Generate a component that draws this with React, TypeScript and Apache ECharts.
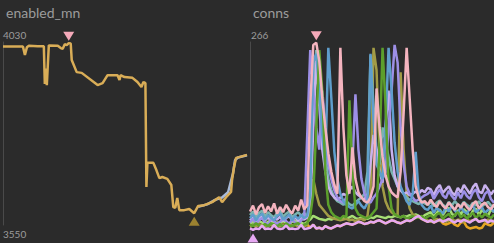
import React, { useEffect, useRef } from 'react';
import * as echarts from 'echarts';

const leftTitle = 'enabled_mn';
const rightTitle = 'conns';
const leftTicks = [3550, 4030];
const rightTicks = [0, 266];

// [time, value]
const enabledMn: [number, number][] = [
  [0, 4018], [10, 4018], [20, 4018], [22, 3996], [24, 4016], [26, 4020], [35, 4019], [41, 4019],
  [42, 3920], [43, 3960], [44, 3917], [46, 4021], [55, 4020], [58, 4014], [60, 4012], [62, 4024],
  [64, 4022], [66, 4027], [68, 4026], [69, 3983], [74, 3951], [79, 3949], [95, 3917], [100, 3922],
  [105, 3943], [112, 3943], [115, 3943], [117, 3930], [118, 3943], [122, 3938], [130, 3936],
  [135, 3925], [139, 3912], [141, 3925], [143, 3922], [144, 3650], [145, 3713], [151, 3713],
  [154, 3694], [157, 3673], [160, 3676], [165, 3671], [169, 3655], [171, 3597], [173, 3595],
  [175, 3621], [177, 3589], [182, 3589], [187, 3592], [192, 3581], [196, 3600], [202, 3602],
  [210, 3610], [217, 3623], [220, 3610], [224, 3623], [229, 3637], [230, 3668], [232, 3702],
  [234, 3726], [237, 3728], [245, 3734],
];
const enabledMnAlt: [number, number][] = [
  [196, 3598], [205, 3604], [213, 3616], [220, 3622], [226, 3636], [231, 3686], [233, 3720],
  [236, 3727], [245, 3733],
];

const connsPink = [
  36, 44, 32, 42, 46, 34, 43, 36, 47, 33, 42, 35, 45, 38, 33, 44, 37, 52, 39, 44,
  180, 262, 265, 240, 190, 150, 115, 90, 72, 60,
  258, 150, 85, 60, 123, 80, 62, 55, 50, 48,
  55, 70, 203, 150, 110, 85, 70, 62, 58, 55,
  90, 170, 258, 190, 120, 70, 55, 48, 50, 45,
  52, 46, 42, 50, 44, 40, 48, 43, 38, 46,
  41, 48, 42, 38, 46, 50, 40, 45, 48, 42, 39, 46,
];
const connsGreen = [
  18, 16, 20, 17, 15, 19, 16, 20, 18, 16, 19, 15, 20, 17, 16, 19, 20, 16, 18, 20,
  30, 60, 150, 255, 200, 90, 45, 35, 30, 28,
  26, 30, 28, 187, 90, 40, 32, 30, 28, 27,
  30, 35, 40, 120, 258, 180, 70, 40, 32, 30,
  28, 30, 26, 28, 30, 27, 28, 30, 26, 29,
  31, 27, 32, 34, 26, 30, 33, 27, 31, 35,
  28, 32, 26, 31, 34, 27, 32, 28, 33, 30, 27, 32,
];
const connsBlue = [
  27, 32, 24, 30, 33, 25, 31, 27, 24, 30, 33, 25, 28, 32, 24, 30, 26, 31, 27, 30,
  60, 240, 250, 200, 140, 100, 258, 190, 117, 80,
  60, 50, 45, 42, 40, 45, 50, 44, 40, 48,
  250, 160, 100, 90, 80, 150, 258, 200, 130, 90,
  70, 60, 50, 45, 60, 117, 60, 45, 40, 38,
  44, 34, 41, 37, 33, 42, 36, 44, 37, 34,
  42, 36, 33, 40, 44, 35, 39, 42, 34, 38, 41, 35,
];
const connsPurple = [
  21, 26, 19, 24, 27, 21, 18, 26, 23, 19, 22, 27, 23, 19, 25, 21, 18, 24, 28, 140,
  255, 200, 150, 120, 200, 150, 100, 80, 65, 55,
  50, 48, 55, 70, 100, 195, 120, 80, 60, 50,
  48, 55, 60, 70, 80, 90, 150, 200, 262, 238,
  150, 100, 70, 60, 55, 50, 52, 55, 58, 60,
  64, 53, 60, 66, 58, 54, 64, 57, 52, 62,
  54, 64, 57, 53, 62, 66, 55, 50, 60, 64, 53, 48,
];
const connsLavender = [
  13, 11, 13, 12, 17, 12, 13, 12, 18, 13, 12, 13, 17, 12, 13, 12, 13, 18, 12, 13,
  14, 18, 13, 14, 12, 16, 14, 13, 15, 17,
  16, 18, 20, 19, 18, 20, 22, 21, 19, 20,
  22, 21, 23, 24, 22, 20, 22, 24, 23, 21,
  20, 22, 24, 23, 25, 28, 30, 26, 24, 22,
  24, 21, 23, 25, 22, 24, 26, 23, 21, 24,
  22, 25, 23, 21, 24, 26, 22, 23, 25, 21, 24, 22,
];
const connsOlive = [
  16, 17, 16, 18, 17, 16, 17, 18, 16, 17, 16, 18, 17, 16, 17, 18, 16, 17, 16, 18,
  40, 80, 60, 45, 40, 35, 30, 28, 26, 25,
  24, 25, 26, 24, 25, 23, 25, 26, 24, 30,
  60, 258, 228, 120, 70, 50, 40, 35, 32, 30,
  225, 120, 60, 40, 32, 30, 28, 26, 25, 24,
  22, 24, 26, 23, 25, 22, 24, 26, 23, 25,
  24, 22, 25, 23, 24, 26, 22, 24, 23, 25, 22, 24,
];
const connsTeal = [
  31, 36, 28, 34, 37, 29, 35, 31, 28, 34, 37, 29, 33, 36, 28, 32, 35, 30, 34, 29,
  50, 200, 255, 230, 160, 110, 80, 65, 55, 50,
  48, 45, 50, 46, 44, 48, 52, 55, 60, 90,
  248, 180, 120, 100, 150, 130, 110, 90, 80, 70,
  65, 60, 55, 52, 50, 48, 46, 50, 47, 45,
  49, 43, 48, 51, 45, 42, 49, 44, 50, 45,
  43, 49, 45, 42, 48, 44, 50, 43, 46, 49, 44, 42,
];
const connsGold = [
  16, 17, 16, 18, 17, 16, 17, 18, 16, 17, 16, 18, 17, 16, 17, 18, 16, 17, 16, 18,
  14, 18, 13, 14, 12, 16, 14, 13, 15, 17,
  16, 18, 20, 19, 18, 20, 22, 21, 19, 20,
  22, 21, 23, 24, 22, 20, 22, 24, 23, 21,
  20, 22, 24, 23, 25, 28, 30, 26, 24, 22,
  24, 21, 23, 25, 20, 18, 20, 22, 18, 16,
  21, 22, 15, 13, 14, 15, 13, 14, 20, 18, 17, 21,
];
const connsLightGreen = [
  20, 22, 19, 23, 21, 19, 22, 23, 19, 21, 20, 23, 21, 19, 22, 23, 20, 21, 19, 22,
  25, 30, 28, 26, 25, 24, 26, 25, 27, 26,
  25, 27, 26, 28, 30, 27, 26, 28, 27, 26,
  28, 27, 30, 29, 28, 27, 29, 28, 30, 29,
  28, 30, 29, 31, 30, 32, 30, 28, 31, 33,
  35, 29, 34, 39, 31, 37, 41, 33, 30, 38,
  32, 39, 35, 29, 37, 40, 31, 38, 34, 30, 39, 35,
];
const connsLightLavender = [
  24, 28, 22, 27, 30, 24, 28, 23, 27, 25, 29, 23, 27, 30, 24, 28, 23, 27, 25, 28,
  40, 150, 240, 180, 120, 90, 70, 60, 55, 52,
  55, 60, 58, 65, 70, 62, 58, 55, 52, 60,
  100, 140, 120, 90, 75, 150, 200, 120, 85, 70,
  65, 60, 62, 58, 60, 63, 60, 65, 62, 68,
  66, 58, 67, 72, 61, 66, 70, 62, 58, 68,
  62, 72, 66, 60, 69, 74, 63, 61, 72, 66, 59, 65,
];

const FONT = 'Lato, "Noto Sans", sans-serif';
const TEXT = '#9c9c9c';
const BG = '#2b2b2b';

export default function App() {
  const ref = useRef<HTMLDivElement>(null);
  useEffect(() => {
    document.body.style.margin = '0';
    const chart = echarts.init(ref.current!, null, { renderer: 'svg' });
    const idx = (arr: number[]) => arr.map((v, i) => [i, v]);
    const connsDefs = [
      { name: 'lightgreen', color: '#a6de74', data: connsLightGreen },
      { name: 'gold', color: '#e6a624', data: connsGold },
      { name: 'olive', color: '#a29c46', data: connsOlive },
      { name: 'teal', color: '#7ab4b0', data: connsTeal },
      { name: 'lightlavender', color: '#c9b2ee', data: connsLightLavender },
      { name: 'purple', color: '#9d8fe6', data: connsPurple },
      { name: 'blue', color: '#5f9ecc', data: connsBlue },
      { name: 'green', color: '#5c9f2c', data: connsGreen },
      { name: 'pink', color: '#f4b4bf', data: connsPink },
      { name: 'lavender', color: '#e6a8f2', data: connsLavender },
    ];
    const axisLabelBase = { color: TEXT, fontSize: 10, fontFamily: FONT };
    chart.setOption({
      animation: false,
      backgroundColor: BG,
      title: [
        { text: leftTitle, left: 6, top: 5, padding: 0, textStyle: { color: TEXT, fontSize: 14, fontWeight: 'normal', fontFamily: FONT } },
        { text: rightTitle, left: 253, top: 5, padding: 0, textStyle: { color: TEXT, fontSize: 14, fontWeight: 'normal', fontFamily: FONT } },
      ],
      grid: [
        { left: 3, right: 247, top: 42, bottom: 18 },
        { left: 250, right: 0, top: 42, bottom: 5 },
      ],
      xAxis: [
        { gridIndex: 0, type: 'value', min: 0, max: 245, show: false },
        { gridIndex: 1, type: 'value', min: 0, max: connsPink.length - 1, show: false },
      ],
      yAxis: [
        {
          gridIndex: 0, type: 'value', min: leftTicks[0], max: leftTicks[1],
          splitLine: { show: false }, axisTick: { show: false },
          axisLine: { show: true, lineStyle: { color: '#4a4a4a', width: 1 } },
          axisLabel: {
            ...axisLabelBase, inside: true, margin: 0, customValues: leftTicks,
            formatter: (v: number) => (v === leftTicks[1] ? `{t|${v}}` : `{b|${v}}`),
            rich: {
              t: { ...axisLabelBase, padding: [0, 0, 14, 0] },
              b: { ...axisLabelBase, padding: [18, 0, 0, 0] },
            },
          },
        },
        {
          gridIndex: 1, type: 'value', min: rightTicks[0], max: rightTicks[1],
          splitLine: { show: false }, axisTick: { show: false },
          axisLine: { show: true, lineStyle: { color: '#4a4a4a', width: 1 } },
          axisLabel: {
            ...axisLabelBase, inside: true, margin: 1, customValues: [rightTicks[1]],
            formatter: (v: number) => `{t|${v}}`,
            rich: { t: { ...axisLabelBase, padding: [0, 0, 14, 0] } },
          },
        },
      ],
      series: [
        {
          type: 'line', xAxisIndex: 0, yAxisIndex: 0, data: enabledMnAlt, showSymbol: false,
          lineStyle: { color: '#a9bbd9', width: 2.5 },
        },
        {
          type: 'line', xAxisIndex: 0, yAxisIndex: 0, data: enabledMn, showSymbol: false,
          lineStyle: { color: '#d9ad57', width: 2.5 },
          markPoint: {
            label: { show: false },
            data: [
              { type: 'max', symbol: 'triangle', symbolSize: [11, 9], symbolRotate: 180, symbolOffset: [0, -7], itemStyle: { color: '#f4a9b9' } },
              { type: 'min', symbol: 'triangle', symbolSize: [11, 9], symbolOffset: [0, 8], itemStyle: { color: '#9c8230' } },
            ],
          },
        },
        ...connsDefs.map((d) => ({
          type: 'line', name: d.name, xAxisIndex: 1, yAxisIndex: 1, data: idx(d.data), showSymbol: false,
          lineStyle: { color: d.color, width: 2.5 }, itemStyle: { color: d.color },
          markPoint: d.name === 'pink' ? {
            label: { show: false },
            data: [{ type: 'max', symbol: 'triangle', symbolSize: [11, 9], symbolRotate: 180, symbolOffset: [0, -7], itemStyle: { color: '#f4a9b9' } }],
          } : d.name === 'lavender' ? {
            label: { show: false },
            data: [{ type: 'min', symbol: 'triangle', symbolSize: [11, 9], symbolOffset: [0, 8], itemStyle: { color: '#e6a8f2' } }],
          } : undefined,
        })),
      ],
    });
    return () => chart.dispose();
  }, []);
  return <div ref={ref} style={{ width: 494, height: 243 }} />;
}
